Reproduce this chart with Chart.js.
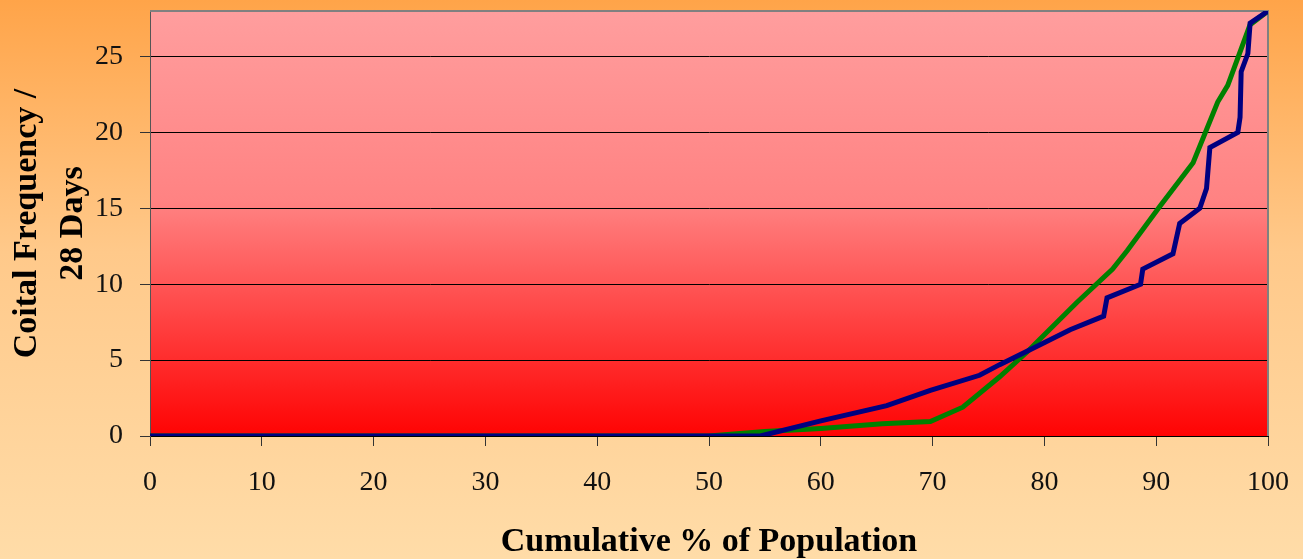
<!DOCTYPE html>
<html>
<head>
<meta charset="utf-8">
<script src="https://cdn.jsdelivr.net/npm/chart.js@4.4.1/dist/chart.umd.min.js"></script>
<style>
html,body{margin:0;padding:0;}
body{width:1303px;height:559px;background:linear-gradient(to bottom,#FFA449 0%,#FFC98A 45%,#FFDCA8 100%);overflow:hidden;}
canvas{display:block;}
</style>
</head>
<body>
<canvas id="c" width="1303" height="559"></canvas>
<script>
// Cumulative % of population (x) and coital frequency per 28 days (y)
const blueX = [0, 54.6, 60, 65.9, 69.8, 74.2, 76, 79.3, 82.3, 85.3, 85.6, 88.6, 88.8, 91.5, 92.1, 93.9, 94.5, 94.8, 97.3, 97.5, 97.6, 98.2, 98.4, 100];
const blueY = [0, 0, 1, 2, 3, 4, 4.7, 5.9, 7, 7.9, 9.1, 10, 11, 12, 14, 15, 16.3, 19, 20, 21, 24, 25.2, 27.2, 28];
const greenX = [0, 50, 55, 60, 65.5, 69.8, 72.7, 76, 78.4, 82.9, 86.1, 87.4, 90.3, 93.3, 95.5, 96.4, 98.4, 100];
const greenY = [0, 0, 0.3, 0.5, 0.8, 0.95, 1.9, 3.9, 5.5, 8.8, 11, 12.2, 15.1, 18, 22, 23.1, 27.1, 28];
const xTicks = [0, 10, 20, 30, 40, 50, 60, 70, 80, 90, 100];
const yTicks = [0, 5, 10, 15, 20, 25];
const xTitle = 'Cumulative % of Population';
const yTitle = ['Coital Frequency /', '28 Days'];

const toPts = (xs, ys) => xs.map((x, i) => ({x: x, y: ys[i]}));

const plotBg = {
  id: 'plotBg',
  beforeDraw(chart) {
    const {ctx, chartArea: a} = chart;
    const g = ctx.createLinearGradient(0, a.top, 0, a.bottom);
    g.addColorStop(0, '#FF9E9E');
    g.addColorStop(0.45, '#FF8282');
    g.addColorStop(1, '#FF0303');
    ctx.save();
    ctx.fillStyle = g;
    ctx.fillRect(a.left, a.top, a.right - a.left, a.bottom - a.top);
    ctx.restore();
  },
  beforeDatasetsDraw(chart) {
    const {ctx, chartArea: a} = chart;
    ctx.save();
    ctx.strokeStyle = '#808080';
    ctx.lineWidth = 2;
    ctx.beginPath();
    ctx.moveTo(a.left, a.top);
    ctx.lineTo(a.right, a.top);
    ctx.lineTo(a.right, a.bottom);
    ctx.stroke();
    ctx.restore();
  }
};

const serif = 'Liberation Serif';

new Chart(document.getElementById('c'), {
  type: 'line',
  data: {
    datasets: [
      {data: toPts(blueX, blueY), borderColor: '#000080', borderWidth: 5, pointRadius: 0, tension: 0, fill: false},
      {data: toPts(greenX, greenY), borderColor: '#008000', borderWidth: 5, pointRadius: 0, tension: 0, fill: false}
    ]
  },
  options: {
    responsive: false,
    animation: false,
    devicePixelRatio: 1,
    layout: {padding: {top: 11, right: 35, left: 0, bottom: 0}},
    plugins: {legend: {display: false}, tooltip: {enabled: false}},
    scales: {
      x: {
        type: 'linear', min: 0, max: 100,
        afterBuildTicks(s) { s.ticks = xTicks.map(v => ({value: v})); },
        afterFit(s) { s.height = 123; s.paddingLeft = 0; s.paddingRight = 0; },
        grid: {drawOnChartArea: false, drawTicks: true, tickLength: 10, tickColor: '#333', lineWidth: 1},
        border: {display: true, color: '#000', width: 1},
        ticks: {color: '#111', padding: 20, maxRotation: 0, font: {family: serif, size: 28}},
        title: {display: true, text: xTitle, color: '#000', padding: {top: 0, bottom: 0}, font: {family: serif, size: 34, weight: 'bold', lineHeight: 1.0}}
      },
      y: {
        type: 'linear', min: 0, max: 28,
        afterBuildTicks(s) { s.ticks = yTicks.map(v => ({value: v})); },
        afterFit(s) { s.width = 150; s.paddingTop = 0; s.paddingBottom = 0; },
        grid: {color: '#000', lineWidth: 1, drawTicks: true, tickLength: 10, tickColor: '#333'},
        border: {display: true, color: '#555', width: 1},
        ticks: {color: '#111', padding: 17, font: {family: serif, size: 28}},
        title: {display: true, text: yTitle, color: '#000', padding: {top: 4, bottom: 0}, font: {family: serif, size: 34, weight: 'bold', lineHeight: 1.35}}
      }
    }
  },
  plugins: [plotBg]
});
</script>
</body>
</html>
